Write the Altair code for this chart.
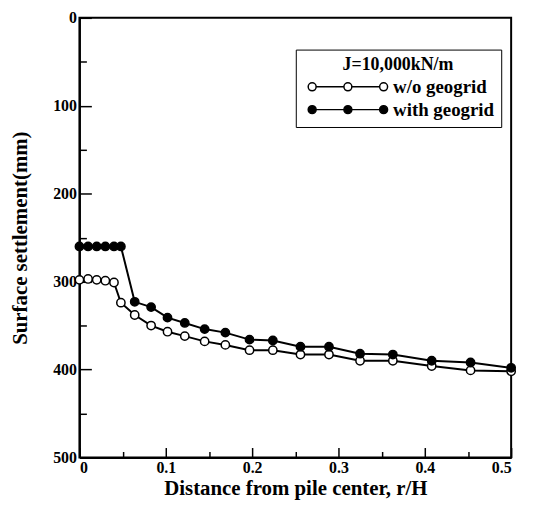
import altair as alt
import pandas as pd

# Distance from pile center r/H (shared by both series)
r_over_H = [0, 0.01, 0.02, 0.03, 0.04, 0.048, 0.064, 0.083, 0.102, 0.122, 0.145,
            0.169, 0.197, 0.224, 0.256, 0.289, 0.325, 0.363, 0.408, 0.453, 0.5]
# Surface settlement (mm)
without_geogrid = [298, 297, 298, 299, 301, 324, 338, 350, 357, 362, 368,
                   372, 378, 378, 383, 383, 390, 390, 396, 401, 402]
with_geogrid = [260, 260, 260, 260, 260, 260, 323, 329, 341, 347, 354,
                358, 366, 367, 374, 374, 382, 383, 390, 392, 398]
series_names = ["w/o geogrid", "with geogrid"]
x_ticks = [0, 0.05, 0.1, 0.15, 0.2, 0.25, 0.3, 0.35, 0.4, 0.45, 0.5]
y_ticks = [0, 50, 100, 150, 200, 250, 300, 350, 400, 450, 500]

rows = []
for i, x in enumerate(r_over_H):
    rows.append({"r": x, "s": without_geogrid[i], "series": series_names[0], "ord": i})
for i, x in enumerate(r_over_H):
    rows.append({"r": x, "s": with_geogrid[i], "series": series_names[1], "ord": i})
df = pd.DataFrame(rows)

FONT = "Liberation Serif"

# legend symbol: a short line with three circles
sym_path = ("M-1,0 a1,1 0 1,0 2,0 a1,1 0 1,0 -2,0 "
            "M1,0 L8,0 "
            "M8,0 a1,1 0 1,0 2,0 a1,1 0 1,0 -2,0 "
            "M10,0 L17,0 "
            "M17,0 a1,1 0 1,0 2,0 a1,1 0 1,0 -2,0")

xenc = alt.X("r:Q", scale=alt.Scale(domain=[0, 0.5], nice=False),
             axis=alt.Axis(values=x_ticks, title="Distance from pile center, r/H",
                           labelExpr="round(datum.value*20) % 2 == 0 ? (datum.value == 0 ? '0' : format(datum.value, '.1f')) : ''",
                           tickSize=alt.ExprRef(expr="round(datum.value*20) % 2 == 0 ? -10 : -6"),
                           labelPadding=12, titlePadding=2, grid=False))
yenc = alt.Y("s:Q", scale=alt.Scale(domain=[0, 500], reverse=True, nice=False),
             axis=alt.Axis(values=y_ticks, title="Surface settlement(mm)",
                           labelExpr="datum.value % 100 == 0 ? datum.label : ''",
                           tickSize=alt.ExprRef(expr="datum.value % 100 == 0 ? -12 : -7"),
                           labelPadding=15, titlePadding=22, grid=False))

base = alt.Chart(df)

lines = base.mark_line(color="black", strokeWidth=2).encode(
    x=xenc, y=yenc, detail="series:N", order="ord:Q")

points = base.mark_point(filled=True, size=70, stroke="black", strokeWidth=1.5, opacity=1).encode(
    x=xenc, y=yenc,
    fill=alt.Fill("series:N",
                  scale=alt.Scale(domain=series_names, range=["white", "black"]),
                  legend=alt.Legend(orient="none", legendX=218, legendY=32,
                                    title="J=10,000kN/m", titleAnchor="middle",
                                    titleFont=FONT, titleFontSize=18, titleFontWeight="bold",
                                    titleColor="black", titlePadding=3,
                                    labelFont=FONT, labelFontSize=19, labelFontWeight="bold",
                                    labelColor="black", labelOffset=72,
                                    symbolType=sym_path, symbolSize=64,
                                    symbolStrokeColor="black", symbolStrokeWidth=1.5,
                                    rowPadding=3, padding=7,
                                    strokeColor="black", fillColor="white")),
)

chart = alt.layer(lines, points).properties(
    width=435, height=443, background="white",
    padding={"left": 2, "top": 0, "right": 10, "bottom": 5},
).configure_view(stroke="black", strokeWidth=2).configure_axis(
    domainColor="black", domainWidth=2, tickColor="black", tickWidth=1.5,
    labelFont=FONT, labelFontSize=16, labelFontWeight="bold", labelColor="black",
    titleFont=FONT, titleFontSize=21, titleFontWeight="bold", titleColor="black",
)

chart.save("out.html", embed_options={"renderer": "svg", "actions": False})
